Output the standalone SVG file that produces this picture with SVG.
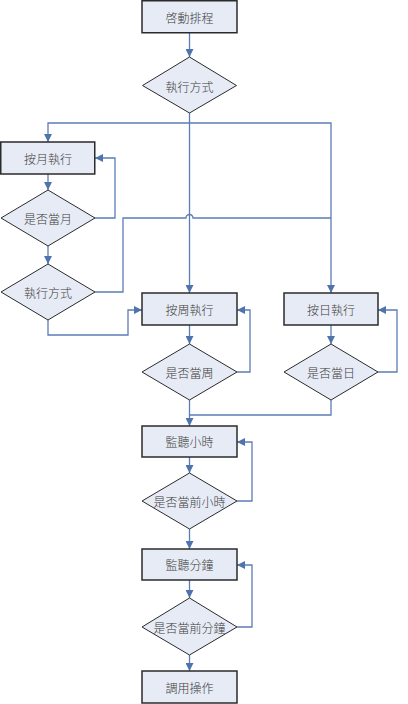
<svg xmlns="http://www.w3.org/2000/svg" width="408" height="704" viewBox="0 0 408 704">
<style>
.box{fill:#e6ebf5;stroke:#2b2b2b;stroke-width:1.5}
.dia{fill:#e6ebf5;stroke:#2b2b2b;stroke-width:1}
.t{font-family:"Noto Sans CJK TC","Noto Sans CJK SC",sans-serif;font-size:12px;font-weight:300;fill:#3c3c3c;text-anchor:middle;dominant-baseline:central}
.c{fill:none;stroke:#5b7db5;stroke-width:1.3}
.a{fill:none;stroke:#5b7db5;stroke-width:1.3;marker-end:url(#ah)}
</style>
<defs>
<marker id="ah" viewBox="0 0 10 10" refX="10" refY="5" markerWidth="8" markerHeight="8" markerUnits="userSpaceOnUse" orient="auto">
<path d="M0,0 L10,5 L0,10 z" fill="#4f73ad"/>
</marker>
</defs>
<rect width="408" height="704" fill="#fff"/>
<g id="connectors">
<path class="a" d="M189.5,33 V57"/>
<path class="c" d="M189.5,95 V123"/>
<path class="a" d="M189.5,123 V293"/>
<path class="a" d="M189.5,123 H48 V142"/>
<path class="a" d="M189.5,123 H331 V293"/>
<path class="a" d="M48,174 V190"/>
<path class="a" d="M95,218 H115 V158 H95"/>
<path class="a" d="M48,246 V264"/>
<path class="c" d="M95,292 H123 V218 H186 A3.5,3.5 0 0 1 193,218 H331"/>
<path class="a" d="M48,320 V335 H128 V310 H142"/>
<path class="a" d="M189.5,325 V344"/>
<path class="a" d="M237,372 H250 V310 H237"/>
<path class="a" d="M331,325 V344"/>
<path class="a" d="M378,372 H397 V310 H378"/>
<path class="c" d="M331,400 V415 H189.5"/>
<path class="a" d="M189.5,400 V426"/>
<path class="a" d="M189.5,457 V473"/>
<path class="a" d="M237,501 H252 V442 H237"/>
<path class="a" d="M189.5,529 V549"/>
<path class="a" d="M189.5,580 V598"/>
<path class="a" d="M237,627 H252 V565 H237"/>
<path class="a" d="M189.5,655 V671"/>
</g>
<g id="n1"><rect class="box" x="142" y="0.75" width="95" height="32"/><text class="t" x="189.5" y="17">啓動排程</text></g>
<g id="n2"><path class="dia" d="M189.5,57 L236.5,85.5 L189.5,113 L142.5,85.5 z"/><text class="t" x="189.5" y="86">執行方式</text></g>
<g id="n3"><rect class="box" x="0.75" y="142" width="94" height="32"/><text class="t" x="48" y="158">按月執行</text></g>
<g id="n4"><path class="dia" d="M48,190 L95,218 L48,246 L1,218 z"/><text class="t" x="48" y="218">是否當月</text></g>
<g id="n5"><path class="dia" d="M48,264 L95,292 L48,320 L1,292 z"/><text class="t" x="48" y="292">執行方式</text></g>
<g id="n6"><rect class="box" x="142" y="293" width="95" height="32"/><text class="t" x="189.5" y="309">按周執行</text></g>
<g id="n7"><rect class="box" x="284" y="293" width="94" height="32"/><text class="t" x="331" y="309">按日執行</text></g>
<g id="n8"><path class="dia" d="M189.5,344 L237,372 L189.5,400 L142,372 z"/><text class="t" x="189.5" y="372">是否當周</text></g>
<g id="n9"><path class="dia" d="M331,344 L378,372 L331,400 L284,372 z"/><text class="t" x="331" y="372">是否當日</text></g>
<g id="n10"><rect class="box" x="142" y="426" width="95" height="31"/><text class="t" x="189.5" y="441.5">監聽小時</text></g>
<g id="n11"><path class="dia" d="M189.5,473 L237,501 L189.5,529 L142,501 z"/><text class="t" x="189.5" y="501">是否當前小時</text></g>
<g id="n12"><rect class="box" x="142" y="549" width="95" height="31"/><text class="t" x="189.5" y="564.5">監聽分鐘</text></g>
<g id="n13"><path class="dia" d="M189.5,598 L237,627 L189.5,655 L142,627 z"/><text class="t" x="189.5" y="627">是否當前分鐘</text></g>
<g id="n14"><rect class="box" x="142" y="671" width="95" height="32"/><text class="t" x="189.5" y="687">調用操作</text></g>
</svg>
